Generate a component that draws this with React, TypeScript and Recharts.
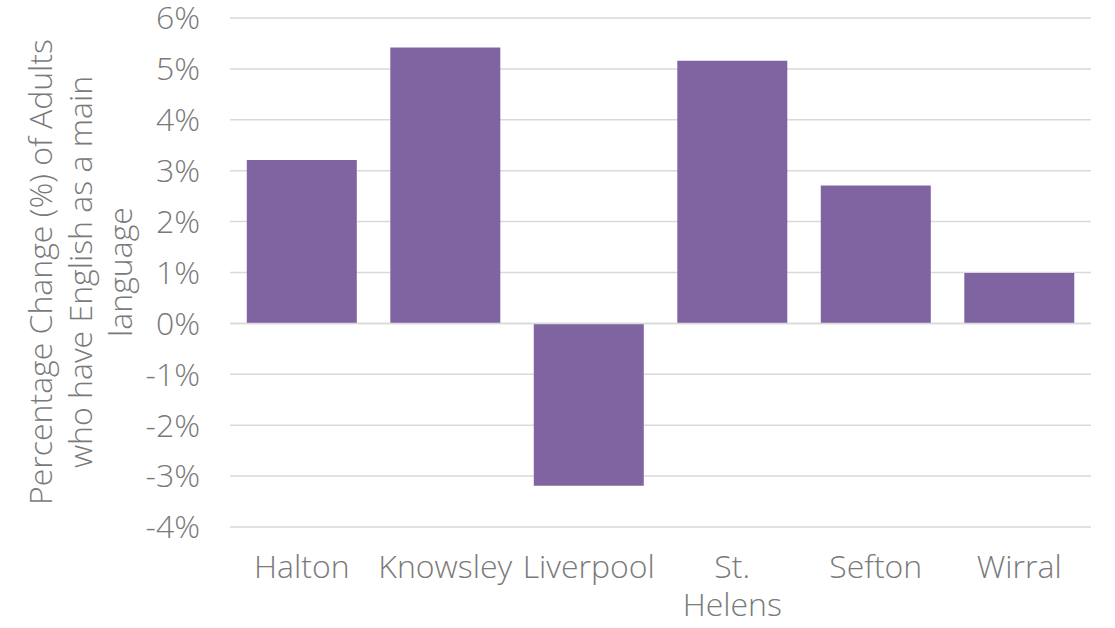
import React from 'react';
import { BarChart, Bar, XAxis, YAxis, CartesianGrid, ReferenceLine } from 'recharts';

const areas = ['Halton', 'Knowsley', 'Liverpool', 'St. Helens', 'Sefton', 'Wirral'];
const changePct = [3.21, 5.42, -3.19, 5.16, 2.71, 0.99];
const yTicks = [-4, -3, -2, -1, 0, 1, 2, 3, 4, 5, 6];
const yLabelLines = ['Percentage Change (%) of Adults', 'who have English as a main', 'language'];

const data = areas.map((name, i) => ({ name, value: changePct[i] }));

const FONT = '"Open Sans", "Noto Sans", sans-serif';
const TEXT = '#7a7a7a';
const FS = 32;

// the source wraps multi-word names because they are wider than the band
const AreaTick = (props: any) => {
  const { x, y, payload } = props;
  const words = String(payload.value).split(' ');
  return (
    <text x={x} y={y + 43} textAnchor="middle" fontSize={FS} fill={TEXT}
      fontFamily={FONT} fontWeight={300}>
      {words.map((w, i) => (
        <tspan key={w} x={x} dy={i === 0 ? 0 : 38}>{w}</tspan>
      ))}
    </text>
  );
};

const YLabel = () => (
  <text transform="translate(52, 272) rotate(-90)" textAnchor="middle" fontSize={FS}
    fill={TEXT} fontFamily={FONT} fontWeight={300}>
    {yLabelLines.map((l, i) => (
      <tspan key={l} x={0} dy={i === 0 ? 0 : 40}>{l}</tspan>
    ))}
  </text>
);

export default function App() {
  return (
    <div style={{ position: 'absolute', left: 0, top: 0, background: '#fff' }}>
      <BarChart width={1115} height={628} data={data}
        margin={{ top: 18, right: 24, left: 0, bottom: 0 }} barCategoryGap="11.7%">
        <CartesianGrid vertical={false} stroke="#d9d9d9" strokeWidth={1.5} />
        <XAxis dataKey="name" height={101} axisLine={false} tickLine={false}
          interval={0} tick={<AreaTick />} />
        <YAxis width={230} domain={[-4, 6]} ticks={yTicks} interval={0} axisLine={false}
          tickLine={false} tickSize={0} tickMargin={30} tickFormatter={(v: number) => `${v}%`}
          tick={{ fontSize: FS, fill: TEXT, fontFamily: FONT, fontWeight: 300 }}
          label={<YLabel />} />
        <ReferenceLine y={0} stroke="#d9d9d9" strokeWidth={1.5} />
        <Bar dataKey="value" fill="#8064a2" isAnimationActive={false} />
      </BarChart>
    </div>
  );
}
